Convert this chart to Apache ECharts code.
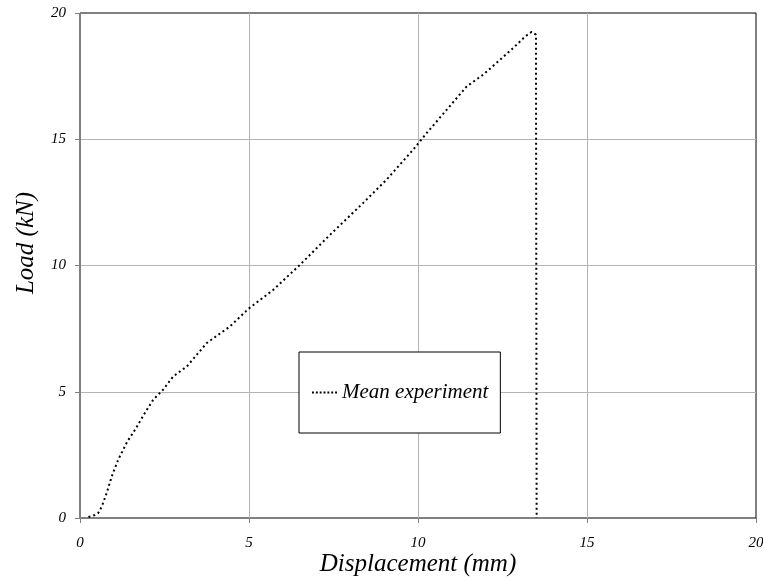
<!DOCTYPE html>
<html><head><meta charset="utf-8">
<script src="https://cdn.jsdelivr.net/npm/echarts@6/dist/echarts.min.js"></script>
<style>html,body{margin:0;padding:0;background:#fff}#c{width:763px;height:581px}</style>
</head><body><div id="c"></div>
<script>
var displacement = [0.25, 0.44, 0.54, 0.64, 0.79, 0.94, 1.13, 1.40, 1.63, 1.92, 2.17, 2.46, 2.76, 3.16, 3.75, 4.44, 4.98, 5.72, 6.51, 7.40, 8.38, 9.07, 9.86, 10.26, 10.85, 11.44, 11.93, 12.43, 12.87, 13.17, 13.36, 13.49, 13.51];
var load = [0.04, 0.12, 0.20, 0.44, 0.99, 1.65, 2.31, 3.03, 3.50, 4.16, 4.69, 5.08, 5.61, 6.00, 6.93, 7.59, 8.28, 9.04, 10.03, 11.22, 12.48, 13.40, 14.59, 15.25, 16.17, 17.09, 17.56, 18.15, 18.68, 19.07, 19.25, 19.14, 0];
var seriesName = 'Mean experiment';
var xTitle = 'Displacement (mm)';
var yTitle = 'Load (kN)';

var pts = displacement.map(function(x, i){ return [x, load[i]]; });
var font = 'Liberation Serif';
var chart = echarts.init(document.getElementById('c'));
chart.setOption({
  animation: false,
  backgroundColor: '#fff',
  grid: {left: 80, right: 7, top: 13, bottom: 63, show: true, borderColor: '#000', borderWidth: 1, backgroundColor: 'transparent', outerBoundsMode: 'none', containLabel: false},
  legend: {
    left: 299, top: 352, orient: 'horizontal',
    backgroundColor: '#fff', borderColor: '#000', borderWidth: 1,
    padding: [30, 12, 30, 13],
    itemWidth: 25, itemHeight: 2, itemGap: 5,
    icon: 'path://M0,0h2v2h-2z M4,0h2v2h-2z M8,0h2v2h-2z M12,0h2v2h-2z M16,0h2v2h-2z M20,0h2v2h-2z M24,0h2v2h-2z',
    itemStyle: {color: '#000'},
    lineStyle: {width: 0},
    textStyle: {fontFamily: font, fontStyle: 'italic', fontSize: 21, color: '#000'},
    data: [seriesName]
  },
  xAxis: {
    type: 'value', min: 0, max: 20, interval: 5,
    axisLine: {show: true, lineStyle: {color: '#808080', width: 1}},
    axisTick: {show: true, length: 5, lineStyle: {color: '#808080'}},
    axisLabel: {fontFamily: font, fontStyle: 'italic', fontSize: 15, color: '#000', margin: 18},
    splitLine: {show: true, showMinLine: false, showMaxLine: false, lineStyle: {color: '#b4b4b4', width: 1}}
  },
  yAxis: {
    type: 'value', min: 0, max: 20, interval: 5,
    axisLine: {show: true, lineStyle: {color: '#808080', width: 1}},
    axisTick: {show: true, length: 5, lineStyle: {color: '#808080'}},
    axisLabel: {fontFamily: font, fontStyle: 'italic', fontSize: 15, color: '#000', margin: 14},
    splitLine: {show: true, showMinLine: false, showMaxLine: false, lineStyle: {color: '#b4b4b4', width: 1}}
  },
  graphic: [
    {type: 'text', x: 418, y: 564, style: {text: xTitle, font: 'italic 25px "Liberation Serif"', fill: '#000', align: 'center', verticalAlign: 'middle'}},
    {type: 'text', x: 26, y: 243, rotation: Math.PI/2, style: {text: yTitle, font: 'italic 25px "Liberation Serif"', fill: '#000', align: 'center', verticalAlign: 'middle'}}
  ],
  series: [{
    name: seriesName, type: 'line', data: pts,
    showSymbol: false, symbol: 'none',
    lineStyle: {color: '#000', width: 2, type: [2, 3]},
    itemStyle: {color: '#000'},
    z: 5
  }]
});
</script></body></html>
